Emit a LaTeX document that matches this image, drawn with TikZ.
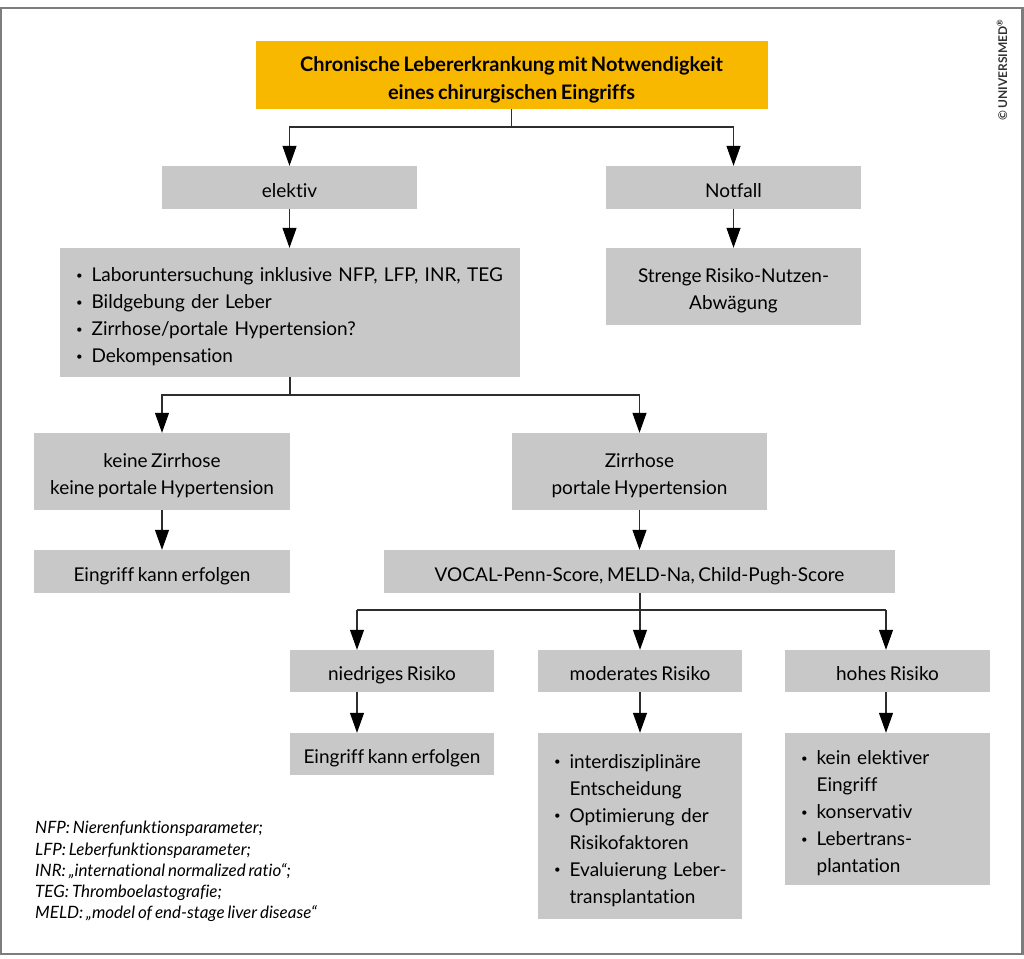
\documentclass[tikz,border=0pt]{standalone}
\usepackage{fontspec}
\setmainfont{Lato}[Ligatures={NoCommon}, WordSpace={0.72}]
\usetikzlibrary{arrows.meta}
\definecolor{boxgray}{RGB}{200,200,200}
\definecolor{orng}{RGB}{249,184,0}
\definecolor{lin}{RGB}{45,45,45}
\definecolor{frame}{RGB}{125,125,125}
\newcommand{\bul}{\raisebox{0.3ex}{\scalebox{0.6}{\textbullet}}}
\newcommand{\dn}[1]{\raisebox{-4.5pt}[\height][\depth]{#1}}
\newcommand{\tb}[1]{\dn{\begin{tabular}{@{}c@{}}#1\end{tabular}}}
\newcommand{\lst}[1]{\dn{\begin{tabular}{@{}l@{\hspace{9pt}}l@{}}#1\end{tabular}}}
\begin{document}
\begin{tikzpicture}[x=1pt,y=-1pt,
  box/.style={fill=boxgray, draw=none, inner sep=0pt, align=center,
    font=\fontsize{19}{27}\selectfont},
  listbox/.style={fill=boxgray, draw=none, inner ysep=0pt, inner xsep=16pt,
    align=left, font=\fontsize{19}{27}\selectfont},
  arr/.style={draw=lin, line width=1.1pt, -{Triangle[length=20pt,width=14pt,color=black]}},
  ln/.style={draw=lin, line width=1.1pt}]
\useasboundingbox (0,0) rectangle (1024,958);
\draw[frame, line width=2.2pt] (1,8) rectangle (1022.5,954);

% top
\node[box, fill=orng, minimum width=512, minimum height=68,
  font=\bfseries\fontsize{20}{28}\selectfont] (top) at (511.5,75)
  {\tb{Chronische Lebererkrankung mit Notwendigkeit\\eines chirurgischen Eingriffs}};

\node[box, minimum width=255, minimum height=43] (elektiv) at (289.5,187.5) {\tb{elektiv}};
\node[box, minimum width=255, minimum height=43] (notfall) at (733.5,187.5) {\tb{Notfall}};

\node[listbox, text width=428, minimum height=129] (labor) at (290,312.5)
  {\lst{\bul & Laboruntersuchung inklusive NFP, LFP, INR, TEG\\
   \bul & Bildgebung der Leber\\
   \bul & Zirrhose/portale Hypertension?\\
   \bul & Dekompensation}};
\node[box, minimum width=255, minimum height=77] (strenge) at (733.5,286.5)
  {\tb{Strenge Risiko-Nutzen-\\Abwägung}};

\node[box, minimum width=256, minimum height=77] (keine) at (162,471.5)
  {\tb{keine Zirrhose\\keine portale Hypertension}};
\node[box, minimum width=255, minimum height=77] (zirr) at (639.5,471.5)
  {\tb{Zirrhose\\portale Hypertension}};

\node[box, minimum width=256, minimum height=43] (eing1) at (162,571.5) {\tb{Eingriff kann erfolgen}};
\node[box, minimum width=511, minimum height=43] (vocal) at (639.5,571.5)
  {\tb{VOCAL-Penn-Score, MELD-Na, Child-Pugh-Score}};

\node[box, minimum width=204, minimum height=42] (nied) at (392,671) {\tb{niedriges Risiko}};
\node[box, minimum width=204, minimum height=42] (mod) at (640,671) {\tb{moderates Risiko}};
\node[box, minimum width=205, minimum height=42] (hoch) at (887.5,671) {\tb{hohes Risiko}};

\node[box, minimum width=204, minimum height=42] (eing2) at (392,754) {\tb{Eingriff kann erfolgen}};

\node[listbox, text width=172, minimum height=186] (modl) at (640,826)
  {\lst{\bul & interdisziplinäre\\
        & Entscheidung\\
   \bul & Optimierung der\\
        & Risikofaktoren\\
   \bul & Evaluierung Leber-\\
        & transplantation}};
\node[listbox, text width=173, minimum height=152] (hochl) at (887.5,809)
  {\lst{\bul & kein elektiver\\
        & Eingriff\\
   \bul & konservativ\\
   \bul & Lebertrans-\\
        & plantation}};

% footnote
\node[anchor=north west, inner sep=0pt, align=left,
  font=\itshape\fontsize{17}{21.3}\selectfont] (notes) at (35,821)
  {NFP: Nierenfunktionsparameter;\\
   LFP: Leberfunktionsparameter;\\
   INR: „international normalized ratio“;\\
   TEG: Thromboelastografie;\\
   MELD: „model of end-stage liver disease“};

% copyright
\node[rotate=90, inner sep=0pt, text=black!80,
  font=\bfseries\fontsize{12}{14}\selectfont] (copy) at (1002,70)
  {© UNIVERSIMED\textsuperscript{®}};

% connectors
\coordinate (s1) at (511.5,127);
\draw[ln] (top.south) -- (s1);
\draw[arr] (s1) -| (elektiv.north);
\draw[arr] (s1) -| (notfall.north);
\draw[arr] (elektiv.south) -- (labor.north -| elektiv.south);
\draw[arr] (notfall) -- (strenge);

\coordinate (s2) at (290,395);
\draw[ln] (labor.south) -- (s2);
\draw[arr] (s2) -| (keine.north);
\draw[arr] (s2) -| (zirr.north);
\draw[arr] (keine) -- (eing1);
\draw[arr] (zirr.south) -- (vocal.north -| zirr.south);

\coordinate (s3) at (640,610);
\coordinate (a3) at (357,610);
\coordinate (c3) at (886,610);
\draw[ln] (vocal.south -| s3) -- (s3);
\draw[ln] (a3) -- (c3);
\draw[arr] (a3) -- (a3 |- nied.north);
\draw[arr] (s3) -- (s3 |- mod.north);
\draw[arr] (c3) -- (c3 |- hoch.north);
\draw[arr] (a3 |- nied.south) -- (a3 |- eing2.north);
\draw[arr] (mod.south) -- (modl.north);
\draw[arr] (c3 |- hoch.south) -- (c3 |- hochl.north);
\end{tikzpicture}
\end{document}
